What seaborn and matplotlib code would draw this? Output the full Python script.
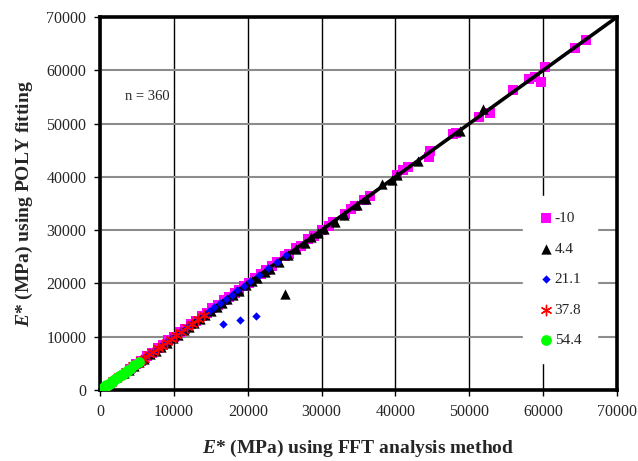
import matplotlib
matplotlib.use("Agg")
import matplotlib.pyplot as plt
import seaborn as sns
import pandas as pd

sns.set_style("white")
plt.rcParams['font.family'] = ['Liberation Serif', 'DejaVu Serif']
plt.rcParams['mathtext.fontset'] = 'custom'
plt.rcParams['mathtext.it'] = 'Liberation Serif:italic:bold'
plt.rcParams['mathtext.rm'] = 'Liberation Serif:bold'

# E* values (MPa): FFT analysis (x) vs POLY fitting (y), by test temperature
m10_fft = [65800, 64300, 60300, 59700, 58900, 58100, 55900, 52800, 51300, 48200,
           47800, 44700, 44500, 41700, 41000, 40200, 36500, 35800, 34500, 34000,
           33200, 31500, 31000, 30000, 29000, 28200, 27200, 26500, 25600, 25000,
           24000, 23300, 22500, 21800, 21000, 20200, 19500, 18800, 18200, 17500,
           16800, 16000, 15200, 14500, 13800, 13000, 12300, 11500, 10800, 10000,
           9200, 8500, 7800, 7000, 6300, 5500, 4800, 4100]
m10_poly = [65700, 64200, 60600, 57900, 58800, 58400, 56300, 51900, 51200, 48300,
            48000, 44800, 43800, 41800, 41200, 40300, 36400, 35700, 34600, 33900,
            33000, 31600, 30800, 30100, 28900, 28300, 27000, 26600, 25500, 25100,
            24100, 23200, 22600, 21700, 21100, 20100, 19600, 18700, 18300, 17400,
            16900, 15900, 15300, 14400, 13900, 12900, 12400, 11400, 10900, 9900,
            9300, 8400, 7900, 6900, 6400, 5400, 4900, 4000]

p44_fft = [51900, 48700, 43000, 40200, 39500, 38200, 36000, 34800, 33000, 31800,
           30300, 29500, 28600, 27800, 26500, 25500, 25000, 24200, 23000, 22300,
           21200, 20500, 19800, 18800, 18000, 17200, 16500, 15800, 15000, 14200,
           13500, 12700, 12000, 11300, 10500, 9800, 9000, 8200, 7500, 6800,
           6000, 5300, 4600, 3900, 3200]
p44_poly = [52800, 48600, 42900, 40400, 39400, 38600, 35900, 34700, 32800, 31600,
            30200, 29400, 28700, 27600, 26400, 25300, 18100, 24100, 22800, 22200,
            21000, 20400, 19700, 18600, 17900, 17000, 16400, 15600, 14900, 14100,
            13300, 12600, 11900, 11200, 10400, 9700, 8900, 8100, 7400, 6700,
            5900, 5200, 4500, 3800, 3100]

p211_fft = [25200, 24000, 22800, 21500, 21100, 20300, 19500, 19000, 18600, 17800,
            17000, 16700, 16200, 15400, 14700, 14000, 13200, 12500, 11800, 11000,
            10300, 9600, 8900, 8200, 7500, 6800, 6100, 5400, 4800, 4200,
            3600, 3000, 2500, 2000, 1500, 1100]
p211_poly = [25300, 24100, 22900, 21600, 13900, 20400, 19600, 13100, 18700, 17900,
             17100, 12400, 16300, 15500, 14800, 14100, 13300, 12600, 11900, 11100,
             10400, 9700, 9000, 8300, 7600, 6900, 6200, 5500, 4900, 4300,
             3700, 3100, 2600, 2100, 1600, 1200]

p378_fft = [14000, 13200, 12500, 11700, 11000, 10300, 9600, 9000, 8400, 7800,
            7200, 6600, 6000, 5500, 5000, 4500, 4000, 3500, 3000, 2600,
            2200, 1800, 1400, 1000, 700, 500]
p378_poly = [14100, 13300, 12400, 11800, 10900, 10400, 9500, 9100, 8300, 7900,
             7100, 6700, 5900, 5600, 4900, 4600, 3900, 3600, 2900, 2700,
             2100, 1900, 1300, 1100, 600, 500]

p544_fft = [5200, 4600, 4100, 3800, 3500, 3200, 2900, 2600, 2300, 2000,
            1800, 1600, 1400, 1200, 1000, 850, 700, 550, 420, 320, 240, 170, 120]
p544_poly = [5200, 4600, 4000, 3800, 3400, 3200, 2800, 2600, 2200, 2000,
             1700, 1600, 1300, 1200, 900, 850, 650, 550, 400, 300, 230, 160, 110]

line_vals = [0, 70000]
ticks = [0, 10000, 20000, 30000, 40000, 50000, 60000, 70000]

fig = plt.figure(figsize=(6.38, 4.61), dpi=100)
ax = fig.add_axes([0.157, 0.154, 0.81, 0.809])

ax.plot(line_vals, line_vals, color='black', linewidth=2.6, zorder=3)

sns.scatterplot(x=m10_fft, y=m10_poly, ax=ax, marker='s', s=52, color='#ff00ff',
                linewidth=0, label='-10', zorder=2)
sns.scatterplot(x=p44_fft, y=p44_poly, ax=ax, marker='^', s=55, color='black',
                linewidth=0, label='4.4', zorder=4)
sns.scatterplot(x=p211_fft, y=p211_poly, ax=ax, marker='D', s=18, color='#0000ff',
                linewidth=0, label='21.1', zorder=5)
sns.scatterplot(x=p378_fft, y=p378_poly, ax=ax, marker=(6, 2, 0), s=55, color='#ff0000',
                linewidth=1.0, label='37.8', zorder=6)
sns.scatterplot(x=p544_fft, y=p544_poly, ax=ax, marker='o', s=60, color='#00ff00',
                linewidth=0, label='54.4', zorder=7)

ax.set_xlim(0, 70000)
ax.set_ylim(0, 70000)
ax.set_xticks(ticks)
ax.set_yticks(ticks)
ax.tick_params(axis='both', labelsize=11.5, direction='out', length=4, width=1,
               color='black', pad=6, bottom=True, left=True)

ax.xaxis.grid(True, color='black', linewidth=1.0)
ax.yaxis.grid(True, color='#8c8c8c', linewidth=1.5)
ax.set_axisbelow(True)
for sp in ax.spines.values():
    sp.set_color('black')
    sp.set_linewidth(2.6)

ax.set_xlabel(r'$E$* (MPa) using FFT analysis method', fontsize=14,
              fontweight='bold', labelpad=13)
ax.set_ylabel(r'$E$* (MPa) using POLY fitting', fontsize=14,
              fontweight='bold', labelpad=8)

ax.text(3400, 55000, 'n = 360', fontsize=10.5, va='center', ha='left')

leg = ax.legend(loc='center', bbox_to_anchor=(0.889, 0.296), fontsize=11,
                frameon=True, fancybox=False, framealpha=1, edgecolor='white',
                handletextpad=0.1, handlelength=1.0, labelspacing=1.1,
                borderpad=1.0, borderaxespad=0)
leg.set_zorder(10)

fig.savefig('out.png', dpi=100)
